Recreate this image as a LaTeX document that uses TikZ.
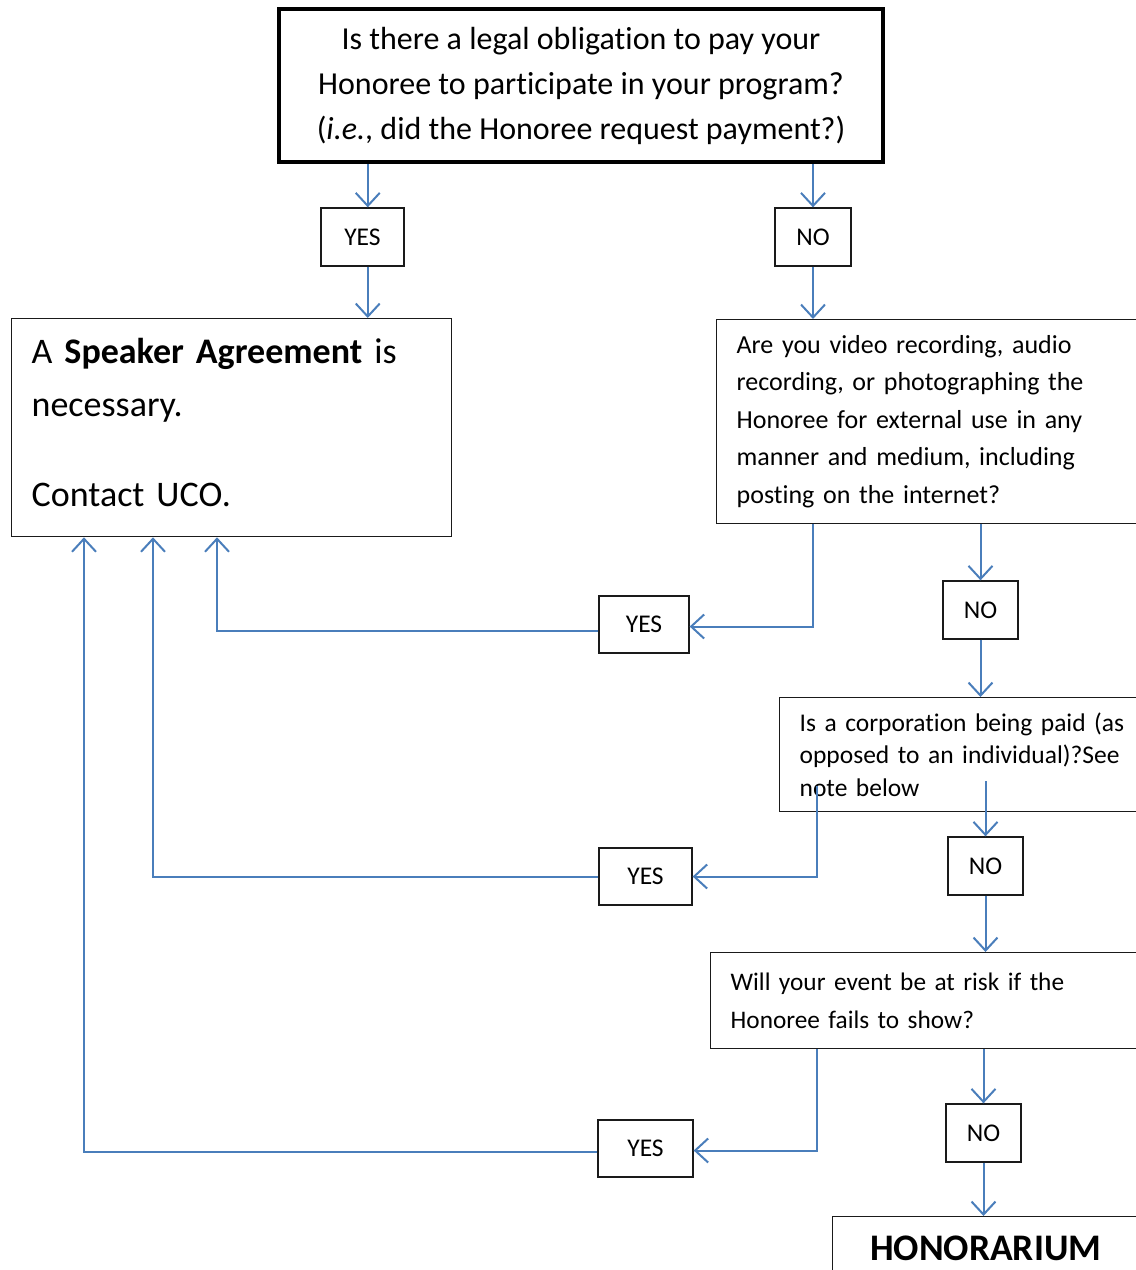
\documentclass[tikz,border=0pt]{standalone}
\usepackage{fontspec}
\setmainfont{Carlito}[Ligatures=NoCommon]
\usetikzlibrary{arrows.meta,positioning}
\definecolor{cline}{HTML}{4A7EBB}
\definecolor{cink}{HTML}{1A1A1A}
\tikzset{
  arr/.style={draw=cline,line width=2pt,-{Straight Barb[length=13pt,width=24pt,line width=2pt]}},
  qbox/.style={draw=cink,line width=1.3pt,anchor=north west,align=left,inner xsep=20pt,inner ysep=0pt},
  ans/.style={draw=cink,line width=1.3pt,inner sep=0pt,font=\fontsize{25.5}{30}\selectfont}
}

\begin{document}
\begin{tikzpicture}[x=1pt,y=-1pt]
\useasboundingbox (0,0) rectangle (1136,1270);

% ============ questions ============
\node[draw=black,line width=4.5pt,minimum width=604,minimum height=153,align=center,
  font=\fontsize{32}{45}\selectfont] (legal) at (581,85.5)
  {Is there a legal obligation to pay your\\Honoree to participate in your program?\\(\textit{i.e.}, did the Honoree request payment?)};

\node[qbox,minimum width=440,minimum height=218,text width=400,font=\fontsize{36}{53}\selectfont] (speaker) at (11,318)
  {A \textbf{Speaker Agreement} is\\necessary.\\[37pt]Contact UCO.\\[-42pt]~};

\node[qbox,minimum width=440,minimum height=204,text width=400,font=\fontsize{26}{37.5}\selectfont] (video) at (716,319)
  {Are you video recording, audio\\recording, or photographing the\\Honoree for external use in any\\manner and medium, including\\posting on the internet?};

\node[qbox,minimum width=380,minimum height=114,text width=340,font=\fontsize{25.5}{32.5}\selectfont] (corp) at (779,697)
  {Is a corporation being paid (as\\opposed to an individual)?See\\note below};

\node[qbox,minimum width=440,minimum height=96,text width=400,font=\fontsize{25.3}{38}\selectfont] (event) at (710,952)
  {Will your event be at risk if the\\Honoree fails to show?};

\node[qbox,minimum width=306,minimum height=64,align=center,inner xsep=0pt,font=\fontsize{37.5}{42}\bfseries] (honor) at (832,1216)
  {HONORARIUM};

% ============ answers ============
\node[ans,minimum width=83,minimum height=58] (yesA) at (362.5,237) {YES};
\node[ans,minimum width=76,minimum height=58] (noA) at (813,237) {NO};
\node[ans,minimum width=75,minimum height=58] (noB) at (980.5,610) {NO};
\node[ans,minimum width=90,minimum height=57] (yesB) at (644,624.5) {YES};
\node[ans,minimum width=75,minimum height=58] (noC) at (985.5,866) {NO};
\node[ans,minimum width=93,minimum height=57] (yesC) at (645.5,876.5) {YES};
\node[ans,minimum width=75,minimum height=58] (noD) at (983.5,1133) {NO};
\node[ans,minimum width=95,minimum height=57] (yesD) at (645.5,1148.5) {YES};

% ============ helper points ============
\coordinate (legalYes) at ([xshift=91]legal.south west);
\coordinate (vidTurn) at ([xshift=97]video.south west);
\coordinate (corpOut) at ([xshift=38,yshift=26]corp.south west);
\coordinate (corpNo) at ([xshift=206,yshift=31]corp.south west);
\coordinate (evTurn) at ([xshift=107]event.south west);
\coordinate (inB) at ([xshift=206]speaker.south west);
\coordinate (inC) at ([xshift=142]speaker.south west);
\coordinate (inD) at ([xshift=73]speaker.south west);

% ============ connectors ============
\draw[arr] (legalYes) -- (legalYes |- yesA.north);
\draw[arr] (legalYes |- yesA.south) -- (legalYes |- speaker.north);
\draw[arr] (noA.north |- legal.south) -- (noA.north);
\draw[arr] (noA.south) -- (noA.south |- video.north);

\draw[arr] (noB.north |- video.south) -- (noB.north);
\draw[arr] (noB.south) -- (noB.south |- corp.north);
\draw[arr] (vidTurn) |- ([yshift=-2]yesB.east);
\draw[arr] ([yshift=-6]yesB.west) -| (inB);

\draw[arr] (corpNo -| noC.north) -- (noC.north);
\draw[arr] (corpOut) |- (yesC.east);
\draw[arr] (yesC.west) -| (inC);

\draw[arr] (noC.south) -- (noC.south |- event.north);
\draw[arr] (noD.north |- event.south) -- (noD.north);
\draw[arr] (evTurn) |- ([yshift=-2]yesD.east);
\draw[arr] ([yshift=-3]yesD.west) -| (inD);
\draw[arr] (noD.south) -- (noD.south |- honor.north);

\end{tikzpicture}
\end{document}
